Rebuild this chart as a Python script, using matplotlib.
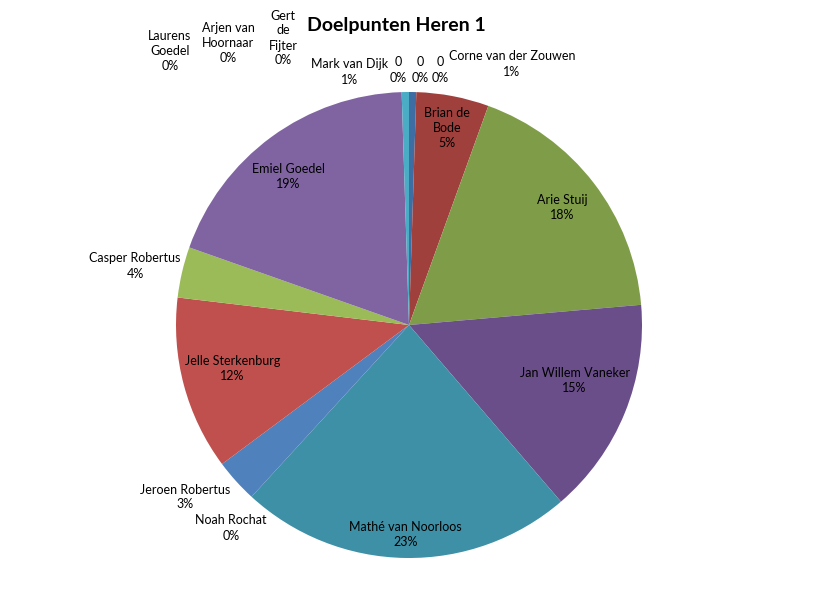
import matplotlib
matplotlib.use("Agg")
import matplotlib.pyplot as plt
import numpy as np

# Data (clockwise from 12 o'clock)
names = ["0", "0", "0", "Corne van der Zouwen", "Brian de Bode", "Arie Stuij",
         "Jan Willem Vaneker", "Mathé van Noorloos", "Noah Rochat", "Jeroen Robertus",
         "Jelle Sterkenburg", "Casper Robertus", "Emiel Goedel", "Mark van Dijk",
         "Gert de Fijter", "Arjen van Hoornaar", "Laurens Goedel"]
goals = [0, 0, 0, 1, 10, 36, 30, 46, 0, 6, 24, 7, 38, 1, 0, 0, 0]
colors = ["#4F81BD", "#C0504D", "#9BBB59", "#3E6DA3", "#A0403D", "#7F9D48",
          "#6A4E8A", "#3D90A6", "#F79646", "#4F81BD", "#C0504D", "#9BBB59",
          "#8064A2", "#4BACC6", "#4F81BD", "#C0504D", "#9BBB59"]
title = "Doelpunten Heren 1"

# label layout (text only): display names with line breaks, and placement
display = {"Brian de Bode": "Brian de\nBode", "Gert de Fijter": "Gert\nde\nFijter",
           "Arjen van Hoornaar": "Arjen van\nHoornaar", "Laurens Goedel": "Laurens\nGoedel"}
# inside labels: (radius factor, angle offset in degrees clockwise) from wedge mid-angle
inside_r = {"Brian de Bode": (0.86, 0.0), "Arie Stuij": (0.83, 0.0),
            "Jan Willem Vaneker": (0.75, -3.5), "Mathé van Noorloos": (0.90, 0.0),
            "Jelle Sterkenburg": (0.78, 1.0), "Emiel Goedel": (0.82, -3.0)}
# outside labels: pixel position of label centre
W, H = 819, 607
CX, CY, R = 409, 325, 233
outside_px = {0: (398, 70), 1: (420, 70), 2: (440, 70),
              "Corne van der Zouwen": (512, 64), "Noah Rochat": (231, 528),
              "Jeroen Robertus": (185, 497), "Casper Robertus": (135, 266),
              "Mark van Dijk": (350, 72), "Gert de Fijter": (283, 38),
              "Arjen van Hoornaar": (228, 43), "Laurens Goedel": (170, 51)}

plt.rcParams['font.family'] = ['Lato', 'DejaVu Sans']
fig = plt.figure(figsize=(W / 100, H / 100), dpi=100)
ax = fig.add_axes([(CX - R) / W, (H - CY - R) / H, 2 * R / W, 2 * R / H])

wedges, _ = ax.pie(goals, colors=colors, startangle=90, counterclock=False,
                   radius=1, wedgeprops=dict(linewidth=0))
ax.set_xlim(-1, 1)
ax.set_ylim(-1, 1)
ax.set_aspect("equal")
ax.axis("off")

total = sum(goals)
fs = 9.0
for i, (n, g, w) in enumerate(zip(names, goals, wedges)):
    pct = int(100.0 * g / total + 0.5)
    txt = display.get(n, n) + "\n" + f"{pct}%"
    if n in inside_r:
        r, off = inside_r[n]
        ang = np.deg2rad((w.theta1 + w.theta2) / 2 - off)
        x, y = r * np.cos(ang), r * np.sin(ang)
    else:
        key = i if i in outside_px else n
        px, py = outside_px[key]
        x, y = (px - CX) / R, (CY - py) / R
    ax.text(x, y, txt, ha="center", va="center", fontsize=fs, color="black",
            linespacing=1.3, clip_on=False)

fig.text(396 / W, 1 - 25 / H, title, ha="center", va="center", fontsize=14,
         fontweight="bold", color="black")

fig.savefig("out.png", dpi=100)
